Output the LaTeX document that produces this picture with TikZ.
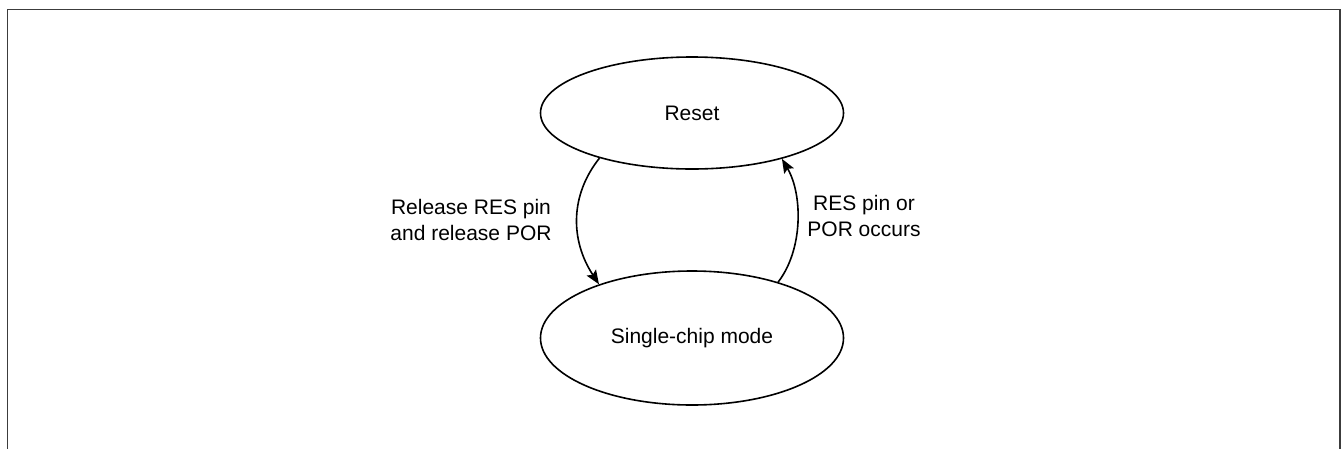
\documentclass[tikz,border=0pt]{standalone}
\usepackage{fontspec}
\setmainfont{Liberation Sans}
\usetikzlibrary{shapes.geometric,arrows.meta}
\definecolor{framegray}{RGB}{60,60,60}
\begin{document}
\begin{tikzpicture}[x=1pt,y=-1pt,
  state/.style={ellipse,draw,line width=1.6pt,minimum width=303pt,inner sep=0pt,font=\fontsize{21}{25}\selectfont},
  lbl/.style={align=center,inner sep=0pt,font=\fontsize{21}{25.5}\selectfont},
  trans/.style={line width=1.6pt,-{Stealth[length=14pt,width=11pt,inset=2.5pt]}}]
\useasboundingbox (0,0) rectangle (1342,448);
\clip (0,0) rectangle (1342,448);
\draw[line width=1.8pt,framegray] (7.5,9.5) rectangle (1340,470);
\node[state,minimum height=112pt] (reset) at (692,113) {Reset};
\node[state,minimum height=134pt] (single) at (692,338) {Single-chip mode};
\draw[trans] (reset.206) .. controls (570,195) and (570,240) .. (single.150);
\draw[trans] (single.33.5) .. controls (803,250) and (803,195) .. (reset.333.7);
\node[lbl] (lblA) at (471,220) {Release RES pin\\and release POR};
\node[lbl] (lblB) at (864,216) {RES pin or\\POR occurs};
\end{tikzpicture}
\end{document}
